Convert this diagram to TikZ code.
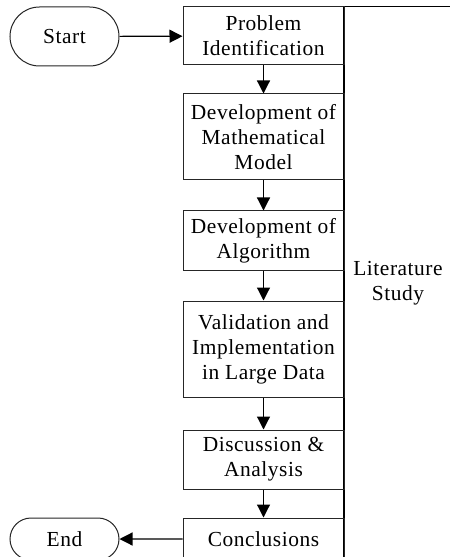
\documentclass[tikz,border=0pt]{standalone}
\usepackage{fontspec}
\setmainfont{Liberation Serif}[LetterSpace=2.5]
\usetikzlibrary{arrows.meta,shapes.misc}
\begin{document}
\begin{tikzpicture}[x=1bp,y=-1bp,
  every node/.style={font=\fontsize{21.5}{25}\selectfont, align=center, inner sep=0pt},
  stepbox/.style={draw=black!85, line width=1bp, minimum width=161bp},
  term/.style={draw=black!85, line width=1bp, rounded rectangle, minimum width=109bp},
  flow/.style={line width=1.2bp, -{Triangle[length=13bp,width=13bp]}}]
\useasboundingbox (0,0) rectangle (450,557);
\clip (0,0) rectangle (450,557);
\fill[white] (0,0) rectangle (450,557);
% literature study frame
\draw[line width=1.1bp] (470,6.5) -- (344,6.5) -- (344,590);
\node (lit) at (398,283) {Literature\\Study};
% nodes
\node[term, minimum height=59bp] (start) at (64.5,36.5) {Start};
\node[stepbox, minimum height=58bp] (pi) at (263.5,36) {Problem\\Identification};
\node[stepbox, minimum height=86bp] (mm) at (263.5,137) {Development of\\Mathematical\\Model};
\node[stepbox, minimum height=59bp] (alg) at (263.5,240.5) {Development of\\Algorithm};
\node[stepbox, minimum height=96bp] (val) at (263.5,349) {Validation and\\Implementation\\in Large Data};
\node[stepbox, minimum height=59bp] (dis) at (263.5,459.5) {Discussion \&\\Analysis};
\node[stepbox, minimum height=42bp] (con) at (263.5,539) {Conclusions};
\node[term, minimum height=42bp] (end) at (64.5,539) {End};
% connectors
\draw[flow] (start) -- (pi);
\draw[flow] (pi) -- (mm);
\draw[flow] (mm) -- (alg);
\draw[flow] (alg) -- (val);
\draw[flow] (val) -- (dis);
\draw[flow] (dis) -- (con);
\draw[flow] (con) -- (end);
\end{tikzpicture}
\end{document}
